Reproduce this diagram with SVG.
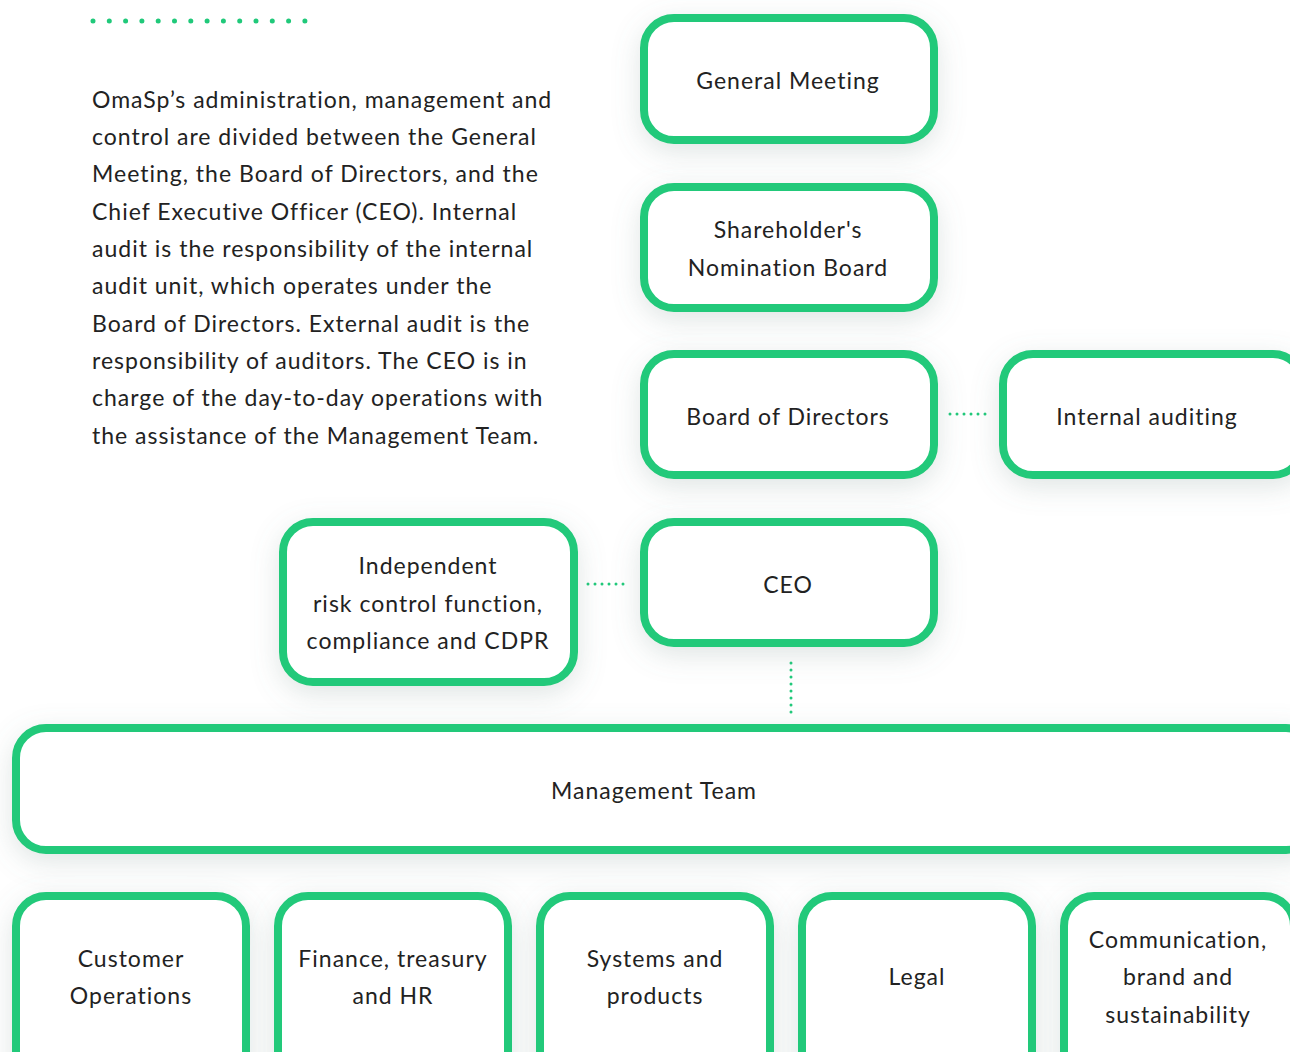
<svg xmlns="http://www.w3.org/2000/svg" width="1290" height="1052" viewBox="0 0 1290 1052">
<defs>
<filter id="sh" x="-30%" y="-40%" width="160%" height="180%">
<feDropShadow dx="0" dy="8" stdDeviation="14" flood-color="#6f8a84" flood-opacity="0.22"/>
</filter>
</defs>
<style>
.box{fill:#fff;stroke:#20c97a;stroke-width:8;filter:url(#sh)}
.t{font-family:Lato,"Noto Sans","Liberation Sans",sans-serif;font-size:23px;letter-spacing:1px;fill:#222;text-anchor:middle}
.p{font-family:Lato,"Noto Sans","Liberation Sans",sans-serif;font-size:23px;letter-spacing:1px;fill:#222}
.dot{fill:none;stroke:#20c97a;stroke-width:3;stroke-linecap:round;stroke-dasharray:0 7}
</style>
<rect width="1290" height="1052" fill="#fff"/>
<line x1="93" y1="21" x2="305" y2="21" stroke="#20c97a" stroke-width="5" stroke-linecap="round" stroke-dasharray="0 16.3"/>
<g id="intro">
<text class="p" x="92" y="108">OmaSp’s administration, management and</text>
<text class="p" x="92" y="145">control are divided between the General</text>
<text class="p" x="92" y="182">Meeting, the Board of Directors, and the</text>
<text class="p" x="92" y="220">Chief Executive Officer (CEO). Internal</text>
<text class="p" x="92" y="257">audit is the responsibility of the internal</text>
<text class="p" x="92" y="294">audit unit, which operates under the</text>
<text class="p" x="92" y="332">Board of Directors. External audit is the</text>
<text class="p" x="92" y="369">responsibility of auditors. The CEO is in</text>
<text class="p" x="92" y="406">charge of the day-to-day operations with</text>
<text class="p" x="92" y="444">the assistance of the Management Team.</text>
</g>
<g id="connectors">
<line class="dot" x1="950" y1="414" x2="992" y2="414"/>
<line class="dot" x1="588" y1="584" x2="630" y2="584"/>
<line class="dot" x1="791" y1="663" x2="791" y2="714"/>
</g>
<g id="general-meeting"><rect class="box" x="644" y="18" width="290" height="122" rx="30"/><text class="t" x="788" y="89">General Meeting</text></g>
<g id="nomination-board"><rect class="box" x="644" y="187" width="290" height="121" rx="30"/><text class="t" x="788" y="238">Shareholder's</text><text class="t" x="788" y="276">Nomination Board</text></g>
<g id="board"><rect class="box" x="644" y="354" width="290" height="121" rx="30"/><text class="t" x="788" y="425">Board of Directors</text></g>
<g id="internal-auditing"><rect class="box" x="1003" y="354" width="300" height="121" rx="30"/><text class="t" x="1147" y="425">Internal auditing</text></g>
<g id="risk-control"><rect class="box" x="283" y="522" width="291" height="160" rx="30"/><text class="t" x="428" y="574">Independent</text><text class="t" x="428" y="612">risk control function,</text><text class="t" x="428" y="649">compliance and CDPR</text></g>
<g id="ceo"><rect class="box" x="644" y="522" width="290" height="121" rx="30"/><text class="t" x="788" y="593">CEO</text></g>
<g id="management-team"><rect class="box" x="16" y="728" width="1300" height="122" rx="30"/><text class="t" x="654" y="799">Management Team</text></g>
<g id="customer-operations"><rect class="box" x="16" y="896" width="230" height="200" rx="30"/><text class="t" x="131" y="967">Customer</text><text class="t" x="131" y="1004">Operations</text></g>
<g id="finance"><rect class="box" x="278" y="896" width="230" height="200" rx="30"/><text class="t" x="393" y="967">Finance, treasury</text><text class="t" x="393" y="1004">and HR</text></g>
<g id="systems"><rect class="box" x="540" y="896" width="230" height="200" rx="30"/><text class="t" x="655" y="967">Systems and</text><text class="t" x="655" y="1004">products</text></g>
<g id="legal"><rect class="box" x="802" y="896" width="230" height="200" rx="30"/><text class="t" x="917" y="985">Legal</text></g>
<g id="communication"><rect class="box" x="1064" y="896" width="230" height="200" rx="30"/><text class="t" x="1178" y="948">Communication,</text><text class="t" x="1178" y="985">brand and</text><text class="t" x="1178" y="1023">sustainability</text></g>
</svg>
